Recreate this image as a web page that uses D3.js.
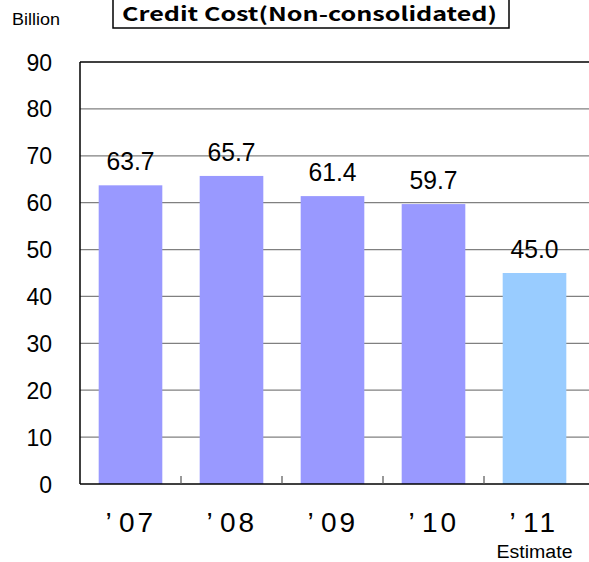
<!DOCTYPE html>
<html><head><meta charset="utf-8">
<script src="https://cdn.jsdelivr.net/npm/d3@7"></script>
<style>body{margin:0;background:#fff}svg{display:block}</style>
</head><body>
<script>
const categories = ["’07","’08","’09","’10","’11"];
const values = [63.7, 65.7, 61.4, 59.7, 45.0];
const isEstimate = [false, false, false, false, true];
const yTicks = [0,10,20,30,40,50,60,70,80,90];
const titleText = "Credit Cost(Non-consolidated)";
const unitText = "Billion";
const estimateText = "Estimate";

(function () {
const W = 589, H = 562;
const mLeft = 80, mRight = 585, mTop = 62, mBottom = 484;
const svg = d3.select("body").append("svg").attr("width", W).attr("height", H);
const font = "'Liberation Sans', Arial, sans-serif";

const x = d3.scaleBand().domain(categories).range([mLeft, mRight]).paddingInner(0.37).paddingOuter(0.185);
const xb = d3.scaleBand().domain(categories).range([mLeft, mRight]);
const y = d3.scaleLinear().domain([0, 90]).range([mBottom, mTop]);

// gridlines
svg.append("g").selectAll("line").data(yTicks.filter(d => d > 0 && d < 90)).join("line")
  .attr("x1", mLeft).attr("x2", W).attr("y1", d => y(d)).attr("y2", d => y(d))
  .attr("stroke", "#808080").attr("stroke-width", 1.2);
svg.append("line").attr("x1", mLeft).attr("x2", W).attr("y1", y(90)).attr("y2", y(90))
  .attr("stroke", "#000").attr("stroke-width", 1.5);

// bars
svg.append("g").selectAll("rect").data(values).join("rect")
  .attr("x", (d, i) => x(categories[i]))
  .attr("width", x.bandwidth())
  .attr("y", d => y(d))
  .attr("height", d => y(0) - y(d))
  .attr("fill", (d, i) => isEstimate[i] ? "#99CCFF" : "#9999FF");

// axes
svg.append("line").attr("x1", mLeft).attr("x2", mLeft).attr("y1", y(90)).attr("y2", y(0))
  .attr("stroke", "#000").attr("stroke-width", 1.5);
svg.append("line").attr("x1", mLeft).attr("x2", W).attr("y1", y(0)).attr("y2", y(0))
  .attr("stroke", "#000").attr("stroke-width", 1.5);
svg.append("g").selectAll("line").data(categories.slice(1)).join("line")
  .attr("x1", d => xb(d)).attr("x2", d => xb(d)).attr("y1", y(0)).attr("y2", y(0) - 8)
  .attr("stroke", "#555").attr("stroke-width", 1.2);

// y labels
svg.append("g").selectAll("text").data(yTicks).join("text")
  .attr("x", 52).attr("y", d => y(d) + 8.5).attr("text-anchor", "end")
  .attr("font-family", font).attr("font-size", 23).text(d => d);

// value labels
svg.append("g").selectAll("text").data(values).join("text")
  .attr("x", (d, i) => x(categories[i]) + x.bandwidth() / 2)
  .attr("y", d => y(d) - 15).attr("text-anchor", "middle")
  .attr("font-family", font).attr("font-size", 26).attr("textLength", 48).attr("lengthAdjust", "spacingAndGlyphs")
  .text(d => d.toFixed(1));

// x labels: apostrophe then digits, spaced like full-width punctuation
const xl = svg.append("g").selectAll("text").data(categories).join("text")
  .attr("x", d => xb(d) + xb.bandwidth() / 2 - 25).attr("y", 532)
  .attr("font-family", font).attr("font-size", 28);
xl.append("tspan").text(d => d.slice(0, 1));
xl.append("tspan").attr("x", d => xb(d) + xb.bandwidth() / 2 - 11.5).attr("letter-spacing", 3).text(d => d.slice(1));

svg.append("text").attr("x", xb(categories[4]) + xb.bandwidth() / 2).attr("y", 558)
  .attr("text-anchor", "middle").attr("font-family", font).attr("font-size", 18)
  .attr("textLength", 76).attr("lengthAdjust", "spacingAndGlyphs").text(estimateText);

// unit
svg.append("text").attr("x", 12).attr("y", 25).attr("font-family", font).attr("font-size", 17)
  .attr("textLength", 48).attr("lengthAdjust", "spacingAndGlyphs").text(unitText);

// title box
svg.append("rect").attr("x", 113).attr("y", -5).attr("width", 396).attr("height", 33)
  .attr("fill", "#fff").attr("stroke", "#000").attr("stroke-width", 1.5);
svg.append("text").attr("x", 122).attr("y", 21).attr("font-family", "'Noto Sans CJK JP', 'DejaVu Sans', sans-serif")
  .attr("font-weight", "bold").attr("font-size", 19).attr("textLength", 375).attr("lengthAdjust", "spacingAndGlyphs")
  .text(titleText);
})();
</script>
</body></html>
